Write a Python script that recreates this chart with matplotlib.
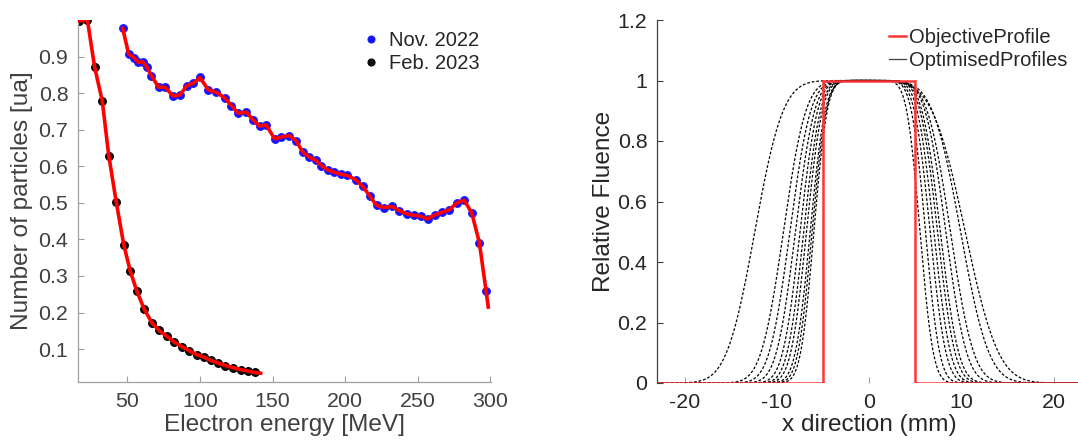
import math
import numpy as np
import matplotlib
matplotlib.use("Agg")
import matplotlib.pyplot as plt
from matplotlib.ticker import FormatStrFormatter, FuncFormatter
from matplotlib.lines import Line2D

plt.rcParams['font.family'] = ['Liberation Sans', 'DejaVu Sans']
plt.rcParams['axes.unicode_minus'] = False

# ---------------- electron spectra ----------------
nov_energy = [46.8, 50.9, 54.5, 57.5, 60.5, 63.5, 66.5, 71.5, 76.0, 81.5,
              86.3, 90.9, 95.4, 100.0, 105.7, 111.4, 117.1, 121.7, 126.3, 132.0,
              136.5, 141.1, 145.7, 151.4, 156.0, 161.6, 166.2, 170.8, 175.3, 179.9,
              183.5, 188.0, 192.5, 197.0, 201.6, 207.3, 212.2, 217.1, 221.7, 226.7,
              232.4, 237.0, 242.3, 247.3, 252.3, 256.8, 262.0, 266.7, 271.9, 277.0,
              282.0, 287.2, 292.5, 297.1]
nov_counts = [0.977, 0.907, 0.897, 0.884, 0.886, 0.871, 0.848, 0.816, 0.816, 0.792,
              0.795, 0.820, 0.827, 0.843, 0.809, 0.802, 0.787, 0.766, 0.745, 0.748,
              0.727, 0.710, 0.713, 0.675, 0.680, 0.684, 0.670, 0.639, 0.625, 0.616,
              0.602, 0.590, 0.584, 0.578, 0.575, 0.563, 0.545, 0.518, 0.493, 0.487,
              0.490, 0.479, 0.470, 0.466, 0.463, 0.456, 0.467, 0.474, 0.481, 0.500,
              0.507, 0.473, 0.391, 0.259]
# end of the fitted curve beyond the last measured point
nov_fit_end_energy = 298.6
nov_fit_end_counts = 0.215

feb_energy = [16.5, 22.5, 27.4, 32.7, 37.2, 42.3, 47.5, 52.0, 56.6, 61.4,
              66.9, 71.9, 77.2, 82.4, 87.4, 92.5, 97.7, 102.7, 107.5, 112.5,
              117.6, 122.8, 128.0, 133.1, 137.7]
feb_counts = [0.997, 1.000, 0.872, 0.779, 0.629, 0.503, 0.386, 0.313, 0.258, 0.211,
              0.172, 0.151, 0.135, 0.119, 0.107, 0.096, 0.085, 0.078, 0.069, 0.062,
              0.055, 0.049, 0.044, 0.040, 0.036]
feb_fit_end_energy = 141.8
feb_fit_end_counts = 0.034

energy_ticks = [50, 100, 150, 200, 250, 300]
count_ticks = [0.1, 0.2, 0.3, 0.4, 0.5, 0.6, 0.7, 0.8, 0.9]

# ---------------- fluence profiles ----------------
objective_x = [-23, -5, -5, 5, 5, 23]
objective_y = [0, 0, 1, 1, 0, 0]

# half-maximum positions and edge spreads (mm) of each optimised profile
prof_left_half = [-12.4, -9.3, -8.6, -8.0, -7.5, -7.1, -6.8, -6.4, -6.2, -6.0]
prof_right_half = [10.4, 9.9, 8.8, 8.3, 7.7, 7.4, 7.0, 6.6, 6.1, 5.5]
prof_left_spread = [3.4, 2.7, 2.5, 2.3, 2.1, 2.0, 1.9, 1.8, 1.7, 1.6]
prof_right_spread = [4.0, 3.4, 2.8, 2.5, 2.2, 2.1, 2.0, 1.9, 1.7, 1.6]

x_ticks = [-20, -10, 0, 10, 20]
fluence_ticks = [0, 0.2, 0.4, 0.6, 0.8, 1.0, 1.2]

W, H = 1078, 445
fig = plt.figure(figsize=(W / 100, H / 100), dpi=100)

text_col = '#262626'
tick_size = 15.4
label_size = 17.6
legend_size = 14.5

# ---------------- left panel ----------------
ax1 = fig.add_axes([78 / W, 1 - 382 / H, (491 - 78) / W, (382 - 20) / H])
ax1.plot(nov_energy, nov_counts, 'o', ms=5.6, color='#1010ff', mec='#2020ff',
         mew=0.8, label='Nov. 2022', zorder=2)
ax1.plot(feb_energy, feb_counts, 'o', ms=5.6, color='#111111', mec='#000000',
         mew=0.8, label='Feb. 2023', zorder=2)
ax1.plot(nov_energy + [nov_fit_end_energy], nov_counts + [nov_fit_end_counts],
         '-', color='#ff0000', lw=2.6, zorder=3, solid_joinstyle='round')
ax1.plot(feb_energy + [feb_fit_end_energy], feb_counts + [feb_fit_end_counts],
         '-', color='#ff0000', lw=2.6, zorder=3, solid_joinstyle='round')

ax1.set_xlim(16, 300.5)
ax1.set_ylim(0.01, 1.0)
ax1.set_xticks(energy_ticks)
ax1.set_yticks(count_ticks)
ax1.yaxis.set_major_formatter(FormatStrFormatter('%.1f'))
for s in ('top', 'right'):
    ax1.spines[s].set_visible(False)
for s in ('left', 'bottom'):
    ax1.spines[s].set_color('#a0a0a0')
    ax1.spines[s].set_linewidth(0.9)
ax1.tick_params(direction='in', length=4, width=0.8, color='#a0a0a0',
                labelsize=tick_size, labelcolor='#404040', pad=7)
ax1.set_xlabel('Electron energy [MeV]', fontsize=label_size, color='#404040', labelpad=2)
ax1.set_ylabel('Number of particles [ua]', fontsize=label_size, color='#404040', labelpad=4)

leg1 = ax1.legend(loc='upper left', bbox_to_anchor=(365 / W, 1 - 31 / H),
                  bbox_transform=fig.transFigure, frameon=False, fontsize=legend_size,
                  handlelength=0.6, handletextpad=0.6, labelspacing=0.2,
                  borderpad=0, borderaxespad=0, markerscale=0.9)
for t in leg1.get_texts():
    t.set_color(text_col)

# ---------------- right panel ----------------
ax2 = fig.add_axes([657 / W, 1 - 383 / H, (1081.5 - 657) / W, (383 - 20) / H])
xs = np.linspace(-23, 23, 1200)
verf = np.vectorize(math.erf)
for lh, rh, ls, rs in zip(prof_left_half, prof_right_half,
                          prof_left_spread, prof_right_spread):
    fluence = 0.5 * (verf((xs - lh) / ls) - verf((xs - rh) / rs))
    ax2.plot(xs, fluence, color='black', lw=0.9, ls=(0, (2.2, 1.5)), zorder=2)
ax2.plot(objective_x, objective_y, color='#ff3535', lw=1.8, zorder=3,
         solid_joinstyle='miter')

ax2.set_xlim(-23, 23)
ax2.set_ylim(0, 1.2)
ax2.set_xticks(x_ticks)
ax2.set_yticks(fluence_ticks)
ax2.yaxis.set_major_formatter(FuncFormatter(lambda v, p: '%g' % round(v, 2)))
for s in ('top', 'right', 'bottom'):
    ax2.spines[s].set_visible(False)
ax2.spines['left'].set_color('#404040')
ax2.spines['left'].set_linewidth(0.9)
ax2.tick_params(direction='in', length=4, width=0.8, color='#a0a0a0',
                labelsize=tick_size, labelcolor='#262626', pad=7)
ax2.tick_params(axis='y', color='#404040')
ax2.set_xlabel('x direction (mm)', fontsize=label_size, color=text_col, labelpad=2)
ax2.set_ylabel('Relative Fluence', fontsize=label_size, color=text_col, labelpad=2)

handles = [Line2D([], [], color='#ff3535', lw=1.8),
           Line2D([], [], color='#404040', lw=0.9)]
leg2 = ax2.legend(handles, ['ObjectiveProfile', 'OptimisedProfiles'],
                  loc='upper left', bbox_to_anchor=(889 / W, 1 - 28 / H),
                  bbox_transform=fig.transFigure, frameon=False, fontsize=legend_size,
                  handlelength=0.85, handletextpad=0.15, labelspacing=0.2,
                  borderpad=0, borderaxespad=0)
for t in leg2.get_texts():
    t.set_color(text_col)

fig.savefig('out.png', dpi=100)
